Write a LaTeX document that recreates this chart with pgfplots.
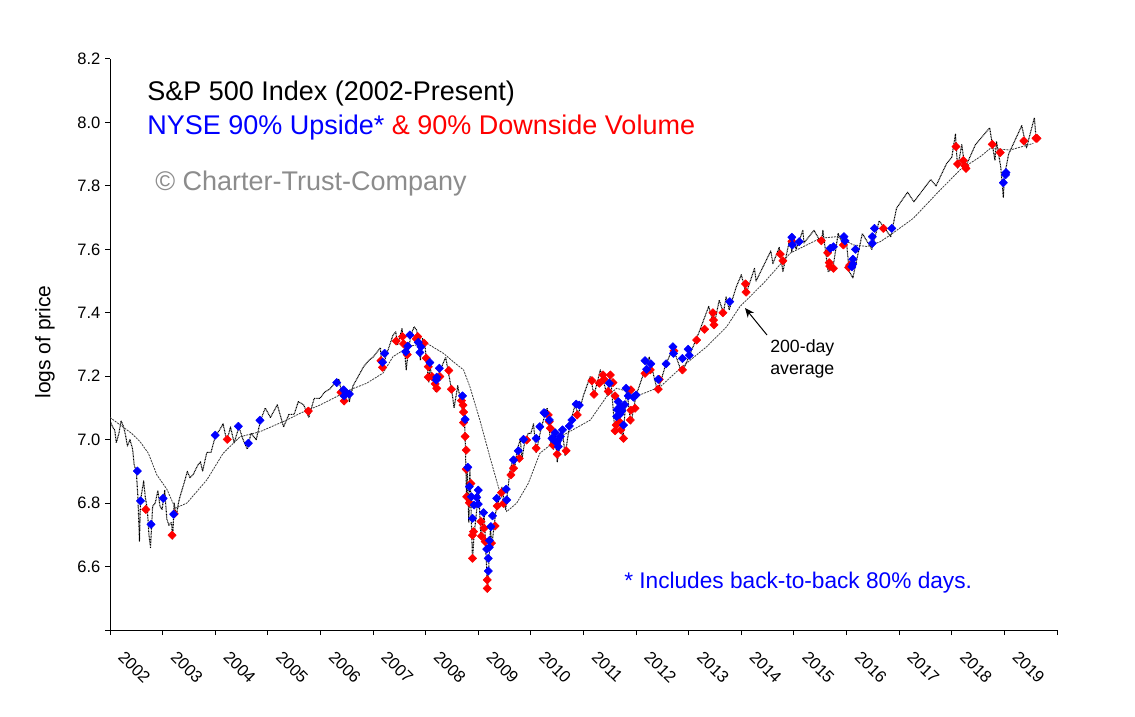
\documentclass[border=0pt]{standalone}
\usepackage{pgfplots}
\pgfplotsset{compat=1.18}
\usetikzlibrary{arrows.meta}
\usepackage{fontspec}
\setmainfont{Liberation Sans}
\definecolor{upblue}{RGB}{0,0,255}
\definecolor{downred}{RGB}{255,0,0}
\definecolor{magray}{RGB}{60,60,60}
\definecolor{copygray}{RGB}{140,140,140}

\begin{document}
\begin{tikzpicture}
\useasboundingbox (0,0) rectangle (851.25pt,-537.75pt);
\begin{axis}[
  at={(82.5pt,-472.5pt)}, anchor=south west,
  scale only axis, width=710.25pt, height=428.25pt,
  xmin=2002, xmax=2020, ymin=6.4, ymax=8.2,
  axis lines*=left, axis line style={line width=0.75pt,-},
  tick style={line width=0.75pt, black}, tick align=outside,
  major tick length=3.75pt,
  xtick={2002,2003,2004,2005,2006,2007,2008,2009,2010,2011,2012,2013,2014,2015,2016,2017,2018,2019,2020},
  xticklabels={2002,2003,2004,2005,2006,2007,2008,2009,2010,2011,2012,2013,2014,2015,2016,2017,2018,2019,},
  ytick={6.4,6.6,6.8,7.0,7.2,7.4,7.6,7.8,8.0,8.2},
  yticklabels={,6.6,6.8,7.0,7.2,7.4,7.6,7.8,8.0,8.2},
  /pgf/number format/assume math mode=true,
  xticklabel style={xshift=6pt, yshift=-12pt, rotate=-45, anchor=west, font=\fontsize{12.4}{14}\selectfont},
  yticklabel style={font=\fontsize{12.4}{14}\selectfont},
  every axis plot/.append style={line join=round},
]
% price (log of S&P 500)
\addplot[black, line width=0.8pt, dash pattern=on 0.7pt off 0.5pt] coordinates {
(2002.00,7.06)(2002.05,7.04)(2002.09,7.03)(2002.12,6.99)(2002.17,7.02)(2002.21,7.06)
(2002.26,7.04)(2002.30,7.01)(2002.33,6.98)(2002.38,7.00)(2002.43,6.97)(2002.46,6.92)
(2002.50,6.90)(2002.53,6.82)(2002.56,6.68)(2002.58,6.81)(2002.64,6.87)(2002.67,6.82)
(2002.71,6.78)(2002.74,6.70)(2002.77,6.66)(2002.81,6.79)(2002.86,6.80)(2002.91,6.84)
(2002.95,6.79)(2002.99,6.78)(2003.04,6.84)(2003.08,6.75)(2003.12,6.73)(2003.17,6.74)
(2003.19,6.685)(2003.22,6.80)(2003.26,6.76)(2003.30,6.80)(2003.33,6.82)(2003.42,6.87)
(2003.47,6.90)(2003.52,6.88)(2003.58,6.89)(2003.67,6.92)(2003.72,6.93)(2003.76,6.90)
(2003.84,6.96)(2003.92,6.96)(2004.00,7.01)(2004.08,7.03)(2004.15,7.05)(2004.22,6.995)
(2004.29,7.04)(2004.36,6.99)(2004.45,7.04)(2004.53,7.00)(2004.61,6.97)(2004.68,7.02)
(2004.78,7.00)(2004.86,7.06)(2004.95,7.10)(2005.05,7.07)(2005.18,7.11)(2005.30,7.04)
(2005.40,7.08)(2005.50,7.08)(2005.58,7.12)(2005.68,7.11)(2005.78,7.07)(2005.88,7.13)
(2005.99,7.13)(2006.08,7.15)(2006.18,7.16)(2006.28,7.18)(2006.35,7.19)(2006.45,7.11)
(2006.52,7.15)(2006.55,7.12)(2006.62,7.17)(2006.72,7.20)(2006.82,7.23)(2006.92,7.25)
(2007.00,7.26)(2007.14,7.29)(2007.17,7.225)(2007.28,7.28)(2007.38,7.33)(2007.43,7.34)
(2007.47,7.30)(2007.55,7.35)(2007.61,7.26)(2007.63,7.22)(2007.67,7.28)(2007.72,7.33)
(2007.78,7.356)(2007.83,7.345)(2007.90,7.25)(2007.94,7.32)(2007.99,7.29)(2008.06,7.18)
(2008.08,7.23)(2008.19,7.15)(2008.23,7.20)(2008.38,7.26)(2008.50,7.15)(2008.54,7.10)
(2008.61,7.17)(2008.71,7.08)(2008.72,7.135)(2008.75,7.01)(2008.78,6.80)(2008.79,6.91)
(2008.82,6.74)(2008.84,6.91)(2008.89,6.62)(2008.92,6.70)(2009.01,6.84)(2009.05,6.69)
(2009.11,6.77)(2009.18,6.52)(2009.23,6.72)(2009.26,6.67)(2009.33,6.77)(2009.42,6.83)
(2009.45,6.85)(2009.52,6.78)(2009.60,6.90)(2009.66,6.94)(2009.70,6.92)(2009.74,6.97)
(2009.80,7.00)(2009.83,6.94)(2009.88,6.99)(2009.95,7.02)(2010.00,7.02)(2010.05,7.05)
(2010.10,6.96)(2010.20,7.04)(2010.31,7.10)(2010.38,6.98)(2010.43,6.97)(2010.46,7.02)
(2010.50,6.93)(2010.60,7.03)(2010.65,6.95)(2010.73,7.04)(2010.84,7.11)(2010.90,7.08)
(2011.00,7.14)(2011.13,7.20)(2011.20,7.14)(2011.32,7.22)(2011.45,7.14)(2011.51,7.21)
(2011.60,7.02)(2011.66,7.11)(2011.70,7.05)(2011.75,7.00)(2011.82,7.16)(2011.90,7.05)
(2012.00,7.14)(2012.25,7.26)(2012.41,7.15)(2012.55,7.23)(2012.70,7.29)(2012.87,7.21)
(2013.00,7.26)(2013.20,7.34)(2013.38,7.42)(2013.48,7.36)(2013.58,7.44)(2013.66,7.40)
(2013.71,7.45)(2013.77,7.41)(2013.90,7.48)(2014.00,7.52)(2014.09,7.46)(2014.25,7.54)
(2014.28,7.50)(2014.56,7.595)(2014.60,7.555)(2014.72,7.606)(2014.79,7.53)(2014.93,7.64)
(2014.96,7.59)(2014.99,7.645)(2015.04,7.60)(2015.17,7.66)(2015.19,7.62)(2015.38,7.66)
(2015.52,7.62)(2015.55,7.66)(2015.65,7.53)(2015.74,7.54)(2015.84,7.65)(2015.95,7.61)
(2015.99,7.64)(2016.05,7.53)(2016.12,7.51)(2016.30,7.65)(2016.48,7.60)(2016.62,7.69)
(2016.84,7.64)(2016.95,7.73)(2017.16,7.78)(2017.28,7.75)(2017.60,7.82)(2017.70,7.80)
(2017.90,7.87)(2018.00,7.89)(2018.07,7.963)(2018.11,7.856)(2018.19,7.93)(2018.25,7.856)
(2018.45,7.93)(2018.72,7.983)(2018.82,7.88)(2018.85,7.94)(2018.93,7.86)(2018.98,7.763)
(2019.00,7.83)(2019.08,7.90)(2019.33,7.99)(2019.42,7.92)(2019.57,8.015)(2019.60,7.953)
};
% 200-day average
\addplot[magray, line width=0.6pt, dash pattern=on 1.5pt off 0.75pt] coordinates {
(2002.00,7.070)(2002.41,7.020)(2002.57,6.994)(2002.73,6.957)(2002.89,6.889)(2003.08,6.844)
(2003.24,6.784)(2003.46,6.800)(2003.84,6.873)(2004.15,6.957)(2004.47,7.009)(2004.85,7.025)
(2005.36,7.062)(2005.61,7.083)(2005.99,7.109)(2006.56,7.157)(2006.88,7.178)(2007.19,7.210)
(2007.38,7.262)(2007.70,7.295)(2008.02,7.304)(2008.34,7.272)(2008.53,7.245)(2008.72,7.220)
(2008.84,7.167)(2009.03,7.062)(2009.22,6.946)(2009.38,6.852)(2009.54,6.773)(2009.73,6.800)
(2009.95,6.862)(2010.17,6.957)(2010.56,7.009)(2011.13,7.062)(2011.44,7.136)(2011.63,7.162)
(2012.07,7.141)(2012.46,7.167)(2012.84,7.225)(2013.34,7.293)(2013.72,7.356)(2013.97,7.419)
(2014.42,7.493)(2014.93,7.588)(2015.50,7.635)(2015.82,7.640)(2016.13,7.614)(2016.39,7.609)
(2016.64,7.624)(2016.83,7.645)(2017.27,7.698)(2017.72,7.777)(2018.16,7.851)(2018.54,7.892)
(2018.73,7.918)(2019.11,7.913)(2019.55,7.934)
};
% 90% downside days
\addplot[only marks, mark=square*, mark size=2.2pt, mark options={rotate=45, draw=downred, fill=downred}] coordinates {
(2002.68,6.780)(2003.18,6.699)(2003.22,6.766)(2004.23,7.001)(2005.77,7.090)(2006.39,7.149)
(2006.45,7.122)(2007.15,7.249)(2007.18,7.228)(2007.44,7.311)(2007.56,7.325)(2007.58,7.302)
(2007.65,7.268)(2007.82,7.318)(2007.85,7.325)(2007.97,7.304)(2008.01,7.257)(2008.05,7.230)
(2008.05,7.197)(2008.12,7.199)(2008.18,7.176)(2008.21,7.162)(2008.27,7.199)(2008.44,7.218)
(2008.49,7.159)(2008.68,7.123)(2008.71,7.109)(2008.72,7.087)(2008.72,7.054)(2008.75,7.010)
(2008.77,6.967)(2008.77,6.907)(2008.78,6.820)(2008.83,6.801)(2008.86,6.862)(2008.89,6.699)
(2008.91,6.710)(2008.89,6.626)(2009.05,6.742)(2009.06,6.696)(2009.11,6.721)(2009.13,6.679)
(2009.17,6.558)(2009.17,6.531)(2009.25,6.674)(2009.32,6.728)(2009.36,6.791)(2009.44,6.833)
(2009.48,6.799)(2009.62,6.889)(2009.67,6.910)(2009.78,6.941)(2009.92,6.999)(2010.10,6.973)
(2010.33,7.078)(2010.35,7.057)(2010.37,7.036)(2010.42,6.983)(2010.50,6.954)(2010.67,6.965)
(2010.88,7.078)(2011.16,7.186)(2011.20,7.143)(2011.30,7.178)(2011.37,7.204)(2011.39,7.190)
(2011.47,7.152)(2011.51,7.204)(2011.56,7.180)(2011.60,7.138)(2011.60,7.028)(2011.62,7.046)
(2011.68,7.057)(2011.71,7.031)(2011.76,7.004)(2011.89,7.062)(2011.90,7.093)(2011.90,7.157)
(2011.98,7.099)(2012.17,7.209)(2012.27,7.220)(2012.42,7.159)(2012.44,7.190)(2012.72,7.280)
(2012.88,7.220)(2013.15,7.314)(2013.30,7.348)(2013.46,7.400)(2013.47,7.377)(2013.48,7.362)
(2013.65,7.400)(2014.08,7.491)(2014.09,7.465)(2014.74,7.585)(2014.79,7.564)(2014.96,7.625)
(2015.52,7.627)(2015.64,7.589)(2015.67,7.558)(2015.68,7.547)(2015.75,7.540)(2015.94,7.614)
(2016.04,7.543)(2016.06,7.550)(2016.70,7.666)(2018.08,7.924)(2018.11,7.869)(2018.22,7.880)
(2018.25,7.863)(2018.27,7.855)(2018.77,7.931)(2018.92,7.905)(2019.37,7.942)(2019.60,7.950)
(2019.62,7.950)
};
% 90% upside days
\addplot[only marks, mark=square*, mark size=2.2pt, mark options={rotate=45, draw=upblue, fill=upblue}] coordinates {
(2002.52,6.901)(2002.58,6.807)(2002.78,6.733)(2003.01,6.815)(2003.21,6.765)(2004.00,7.014)
(2004.44,7.042)(2004.63,6.989)(2004.85,7.061)(2006.31,7.180)(2006.44,7.157)(2006.45,7.138)
(2006.49,7.146)(2006.55,7.144)(2007.18,7.244)(2007.22,7.272)(2007.62,7.277)(2007.66,7.295)
(2007.70,7.330)(2007.86,7.307)(2007.89,7.275)(2007.91,7.293)(2008.08,7.243)(2008.20,7.188)
(2008.21,7.197)(2008.26,7.225)(2008.70,7.138)(2008.75,7.064)(2008.80,6.913)(2008.83,6.852)
(2008.87,6.820)(2008.89,6.752)(2008.92,6.794)(2008.97,6.818)(2009.00,6.841)(2009.00,6.797)
(2009.10,6.770)(2009.16,6.655)(2009.19,6.626)(2009.19,6.586)(2009.21,6.682)(2009.21,6.661)
(2009.24,6.726)(2009.27,6.760)(2009.35,6.815)(2009.53,6.844)(2009.54,6.810)(2009.67,6.936)
(2009.76,6.965)(2009.86,7.001)(2010.10,7.004)(2010.17,7.041)(2010.25,7.085)(2010.27,7.083)
(2010.35,7.062)(2010.40,7.004)(2010.43,7.000)(2010.46,7.022)(2010.49,6.990)(2010.52,6.978)
(2010.52,6.999)(2010.56,7.010)(2010.60,7.031)(2010.73,7.043)(2010.78,7.062)(2010.86,7.112)
(2010.92,7.109)(2011.49,7.178)(2011.63,7.073)(2011.64,7.095)(2011.66,7.120)(2011.69,7.080)
(2011.70,7.104)(2011.73,7.091)(2011.76,7.046)(2011.78,7.110)(2011.81,7.162)(2011.85,7.138)
(2011.95,7.134)(2012.00,7.141)(2012.17,7.249)(2012.20,7.222)(2012.28,7.239)(2012.42,7.190)
(2012.57,7.239)(2012.70,7.293)(2012.71,7.272)(2012.88,7.256)(2012.99,7.285)(2013.01,7.266)
(2013.78,7.435)(2014.96,7.638)(2014.97,7.614)(2015.10,7.624)(2015.69,7.603)(2015.75,7.608)
(2015.95,7.640)(2015.97,7.627)(2016.10,7.545)(2016.12,7.569)(2016.12,7.554)(2016.17,7.600)
(2016.49,7.640)(2016.49,7.619)(2016.53,7.666)(2016.86,7.666)(2018.98,7.810)(2019.02,7.835)
(2019.03,7.842)
};
\end{axis}
\begin{scope}[x=0.75pt,y=-0.75pt]
\node[anchor=west, inner sep=0pt, font=\fontsize{20.25}{24}\selectfont] at (147,94) {S\&P 500 Index (2002-Present)};
\node[anchor=west, inner sep=0pt, font=\fontsize{20.25}{24}\selectfont] at (147,128) {\textcolor{upblue}{NYSE 90\% Upside*} \textcolor{downred}{\& 90\% Downside Volume}};
\node[anchor=west, inner sep=0pt, text=copygray, font=\fontsize{20.25}{24}\selectfont] at (155,184) {© Charter-Trust-Company};
\node[anchor=west, inner sep=0pt, text=upblue, font=\fontsize{17}{20}\selectfont] at (624,583) {* Includes back-to-back 80\% days.};
\node[anchor=north west, inner sep=0pt, align=left, font=\fontsize{13.3}{16.5}\selectfont] at (770,339) {200-day\\average};
\draw[-{Stealth[length=7pt,width=6pt]}, line width=0.75pt] (767,335) -- (745,308);
\node[rotate=90, inner sep=0pt, font=\fontsize{15.75}{18}\selectfont] at (45,342) {logs of price};
\end{scope}
\end{tikzpicture}
\end{document}
